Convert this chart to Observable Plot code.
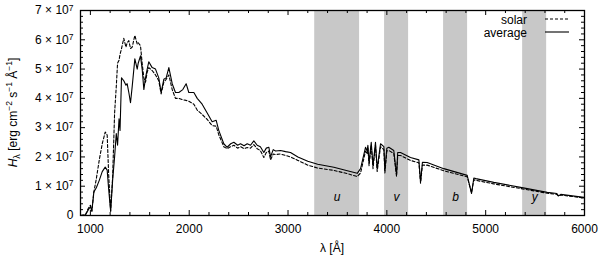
<!DOCTYPE html>
<html>
<head>
<meta charset="utf-8">
<script src="https://cdn.jsdelivr.net/npm/d3@7"></script>
<script src="https://cdn.jsdelivr.net/npm/@observablehq/plot@0.6"></script>
<style>
  html, body { margin: 0; padding: 0; background: #fff; }
  #chart { width: 600px; height: 257px; }
</style>
</head>
<body>
<div id="chart"></div>
<script>
// Wavelength grid (Å)
const lambda = [900,950,980,1000,1015,1035,1060,1090,1120,1150,1170,1185,1205,1225,1245,1262,1275,1290,1300,1315,1338,1360,1372,1389,1406,1423,1450,1474,1484,1507,1524,1541,1558,1575,1591,1625,1659,1692,1716,1743,1767,1794,1828,1861,1895,1935,1969,1996,2047,2081,2131,2182,2232,2273,2300,2350,2384,2420,2452,2490,2519,2555,2587,2620,2654,2688,2720,2755,2780,2806,2823,2850,2874,2924,2975,3025,3100,3200,3300,3464,3600,3700,3734,3784,3800,3808,3820,3842,3860,3885,3902,3936,3970,3980,4000,4020,4070,4098,4110,4138,4239,4324,4341,4360,4408,4576,4813,4857,4880,4900,5082,5353,5623,5720,5737,5760,5993,6000];
// H_lambda, units of 1e7 erg cm^-2 s^-1 Å^-1
const average = [0.0,0.02,0.2,0.3,0.15,0.8,0.95,1.2,1.5,1.65,1.55,0.9,0.15,1.2,2.0,2.8,2.4,3.3,2.9,4.7,4.6,4.45,4.5,4.2,3.85,4.4,5.35,5.0,5.2,5.45,5.0,4.3,4.7,5.0,5.25,5.05,5.0,4.7,4.2,4.65,4.7,5.05,4.5,4.2,4.2,4.3,4.5,4.2,4.2,4.0,3.8,3.5,3.2,3.25,2.9,2.45,2.33,2.45,2.5,2.4,2.45,2.38,2.45,2.4,2.55,2.4,2.35,2.15,2.3,2.33,2.0,2.25,2.2,2.22,2.18,2.15,2.0,1.85,1.75,1.65,1.53,1.44,1.6,2.33,2.2,2.4,1.8,2.5,1.7,2.5,1.6,2.45,2.35,1.55,2.3,2.33,2.22,1.4,2.15,2.15,1.98,1.9,1.15,1.82,1.81,1.6,1.37,0.75,1.28,1.26,1.13,0.96,0.79,0.75,0.67,0.72,0.62,0.62];
const solar = [0.0,0.03,0.25,0.35,0.15,0.8,1.25,1.9,2.45,2.85,2.75,1.4,0.15,1.3,3.5,4.4,5.2,5.3,5.5,5.7,6.05,5.75,5.9,5.97,5.7,5.75,6.15,5.85,5.9,5.8,5.2,4.7,4.55,4.9,5.05,4.95,4.8,4.6,4.15,4.55,4.65,4.8,4.3,4.0,4.0,3.95,3.93,3.9,3.8,3.6,3.45,3.28,3.07,3.05,2.75,2.35,2.28,2.35,2.4,2.3,2.35,2.28,2.32,2.3,2.42,2.28,2.22,1.98,2.15,2.2,1.9,2.1,2.08,2.1,2.05,2.0,1.88,1.72,1.62,1.54,1.43,1.33,1.45,2.2,2.1,2.3,1.7,2.4,1.6,2.4,1.5,2.35,2.25,1.45,2.2,2.22,2.12,1.33,2.05,2.05,1.88,1.8,1.1,1.72,1.72,1.53,1.32,0.78,1.22,1.2,1.08,0.92,0.76,0.72,0.66,0.7,0.6,0.6];

// Strömgren filter bands
const bandNames = ["u", "v", "b", "y"];
const bandStart = [3270, 3977, 4574, 5374];
const bandEnd   = [3724, 4220, 4817, 5617];

// Ticks
const xTicks = [1000, 2000, 3000, 4000, 5000, 6000];
const xMinor = d3.range(1000, 6001, 200).filter(d => d % 1000 !== 0);
const yTicks = [0, 1, 2, 3, 4, 5, 6, 7];
const yMinor = d3.range(0, 7.01, 0.2).map(d => +d.toFixed(1)).filter(d => Math.abs(d - Math.round(d)) > 1e-6);

const rows = lambda.map((l, i) => ({l, avg: average[i], sol: solar[i]}));
const bands = bandNames.map((n, i) => ({n, a: bandStart[i], b: bandEnd[i], c: (bandStart[i] + bandEnd[i]) / 2}));

const W = 600, H = 257, mL = 80, mR = 16, mT = 10, mB = 42;
const fw = W - mL - mR, fh = H - mT - mB;
const font = "'Liberation Sans', Arial, Helvetica, sans-serif";

const svg = Plot.plot({
  width: W, height: H,
  marginLeft: mL, marginRight: mR, marginTop: mT, marginBottom: mB,
  style: {fontFamily: font, fontSize: "12px", background: "#fff", color: "#000", overflow: "visible"},
  x: {domain: [900, 6000], ticks: xTicks, tickSize: 0, tickPadding: 9, tickFormat: d => String(d), label: null},
  y: {domain: [0, 7], ticks: yTicks, tickSize: 0, tickPadding: 7, tickFormat: d => d === 0 ? "0" : `${d} × 10^7`, label: null},
  marks: [
    Plot.rect(bands, {x1: "a", x2: "b", fill: "#c8c8c8"}),
    Plot.text(bands, {x: "c", text: "n", frameAnchor: "bottom", dy: -15, fontStyle: "italic", fontSize: 12, fill: "#000"}),
    Plot.line(rows, {x: "l", y: "sol", stroke: "#000", strokeWidth: 1.1, strokeDasharray: "3,2"}),
    Plot.line(rows, {x: "l", y: "avg", stroke: "#000", strokeWidth: 1.1}),
    // inward mirrored ticks
    Plot.ruleX(xTicks, {x: d => d, insetTop: fh - 5, stroke: "#000"}),
    Plot.ruleX(xTicks, {x: d => d, insetBottom: fh - 5, stroke: "#000"}),
    Plot.ruleX(xMinor, {x: d => d, insetTop: fh - 3, stroke: "#000"}),
    Plot.ruleX(xMinor, {x: d => d, insetBottom: fh - 3, stroke: "#000"}),
    Plot.ruleY(yTicks, {y: d => d, insetRight: fw - 5, stroke: "#000"}),
    Plot.ruleY(yTicks, {y: d => d, insetLeft: fw - 5, stroke: "#000"}),
    Plot.ruleY(yMinor, {y: d => d, insetRight: fw - 3, stroke: "#000"}),
    Plot.ruleY(yMinor, {y: d => d, insetLeft: fw - 3, stroke: "#000"}),
    Plot.frame({stroke: "#000", strokeWidth: 1.3})
  ]
});

// Superscripts on y tick labels
svg.querySelectorAll('[aria-label^="y-axis"] text').forEach(t => {
  const s = t.textContent;
  const m = s.match(/^(.*)\^(\d+)$/);
  if (!m) return;
  t.textContent = "";
  const ns = "http://www.w3.org/2000/svg";
  const a = document.createElementNS(ns, "tspan"); a.textContent = m[1]; t.appendChild(a);
  const b = document.createElementNS(ns, "tspan"); b.textContent = m[2];
  b.setAttribute("dy", "-0.45em"); b.setAttribute("font-size", "8.5px"); t.appendChild(b);
});

const root = d3.select(svg);
function richText(g, parts) {
  let off = 0;
  parts.forEach(p => {
    const ts = g.append("tspan").text(p.t);
    const target = p.shift || 0;
    if (target !== off) { ts.attr("dy", target - off); off = target; }
    if (p.size) ts.attr("font-size", p.size);
    if (p.italic) ts.attr("font-style", "italic");
  });
}

// Y axis label
const yl = root.append("text")
  .attr("transform", `translate(17,${mT + fh / 2}) rotate(-90)`)
  .attr("text-anchor", "middle").attr("font-family", font).attr("font-size", 12).attr("fill", "#000");
richText(yl, [
  {t: "H", italic: true},
  {t: "λ", shift: 3, size: 9},
  {t: " [erg cm", shift: 0},
  {t: "−2", shift: -5, size: 8.5},
  {t: " s", shift: 0},
  {t: "−1", shift: -5, size: 8.5},
  {t: " Å", shift: 0},
  {t: "−1", shift: -5, size: 8.5},
  {t: "]", shift: 0}
]);

// X axis label
root.append("text")
  .attr("x", mL + fw / 2).attr("y", 252)
  .attr("text-anchor", "middle").attr("font-family", font).attr("font-size", 12).attr("fill", "#000")
  .text("λ [Å]");

// Legend
const legend = [{name: "solar", dash: "3,2"}, {name: "average", dash: null}];
legend.forEach((d, i) => {
  const yy = 19 + i * 13;
  root.append("text").attr("x", 527).attr("y", yy + 4.5)
    .attr("text-anchor", "end").attr("font-family", font).attr("font-size", 12).attr("fill", "#000")
    .text(d.name);
  const ln = root.append("line").attr("x1", 545).attr("x2", 569).attr("y1", yy).attr("y2", yy)
    .attr("stroke", "#000").attr("stroke-width", 1.1);
  if (d.dash) ln.attr("stroke-dasharray", d.dash);
});

document.getElementById("chart").appendChild(svg);
</script>
</body>
</html>
